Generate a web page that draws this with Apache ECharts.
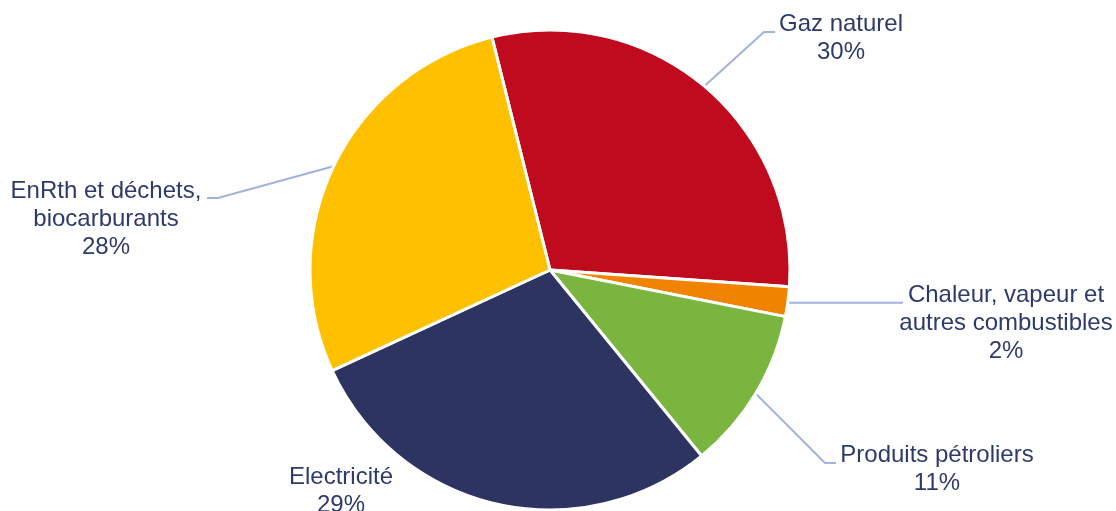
<!DOCTYPE html>
<html lang="fr">
<head>
<meta charset="utf-8">
<title>Consommation finale d'énergie par source</title>
<script src="https://cdn.jsdelivr.net/npm/echarts@6/dist/echarts.min.js"></script>
<style>
  html, body { margin: 0; padding: 0; background: #ffffff; }
  #chart { width: 1116px; height: 511px; }
</style>
</head>
<body>
<div id="chart"></div>
<script>
// Energy sources, in clockwise order starting from the top slice
const categories = [
  'Gaz naturel',
  'Chaleur, vapeur et\nautres combustibles',
  'Produits pétroliers',
  'Electricité',
  'EnRth et déchets,\nbiocarburants'
];
// Share of each source (%)
const shares = [30, 2, 11, 29, 28];
const sliceColors = ['#C00A1E', '#F08300', '#7AB53F', '#2E3462', '#FFC000'];

// Label placement: text block centre and leader line bend (pixels).
// A "flat" leader runs horizontally from the slice edge to the text.
const labelSpots = [
  { x: 841, y: 38, elbow: [764, 32], end: [775, 32] },
  { x: 1006, y: 323, flat: true, end: [903, 0] },
  { x: 937, y: 469, elbow: [825, 463], end: [836, 463] },
  { x: 341, y: 491, elbow: null, end: null },
  { x: 106, y: 219, elbow: [218, 198], end: [207, 198] }
];

const chart = echarts.init(document.getElementById('chart'), null, { renderer: 'canvas' });

chart.setOption({
  animation: false,
  backgroundColor: '#ffffff',
  series: [{
    type: 'pie',
    center: [550, 270],
    radius: 240,
    startAngle: 104,
    clockwise: true,
    percentPrecision: 0,
    avoidLabelOverlap: false,
    itemStyle: { borderColor: '#ffffff', borderWidth: 3 },
    label: {
      show: true,
      position: 'outside',
      formatter: '{b}\n{d}%',
      fontFamily: '"Liberation Sans", Arial, sans-serif',
      fontSize: 24,
      lineHeight: 28,
      color: '#2E3A6B',
      align: 'center'
    },
    labelLine: {
      show: true,
      length: 20,
      length2: 10,
      smooth: false,
      lineStyle: { color: '#A2B2E0', width: 2 }
    },
    labelLayout: function (params) {
      const spot = labelSpots[params.dataIndex];
      const out = { x: spot.x, y: spot.y, align: 'center', verticalAlign: 'middle' };
      if (params.labelLinePoints && spot.end) {
        const start = params.labelLinePoints[0];
        if (spot.flat) {
          const y = start[1] + 1;
          out.labelLinePoints = [[start[0], y], [(start[0] + spot.end[0]) / 2, y], [spot.end[0], y]];
        } else {
          out.labelLinePoints = [start, spot.elbow, spot.end];
        }
      }
      return out;
    },
    data: categories.map(function (name, i) {
      const item = {
        name: name,
        value: shares[i],
        itemStyle: { color: sliceColors[i] }
      };
      if (!labelSpots[i].end) {
        item.labelLine = { show: false };
      }
      return item;
    })
  }]
});
</script>
</body>
</html>
